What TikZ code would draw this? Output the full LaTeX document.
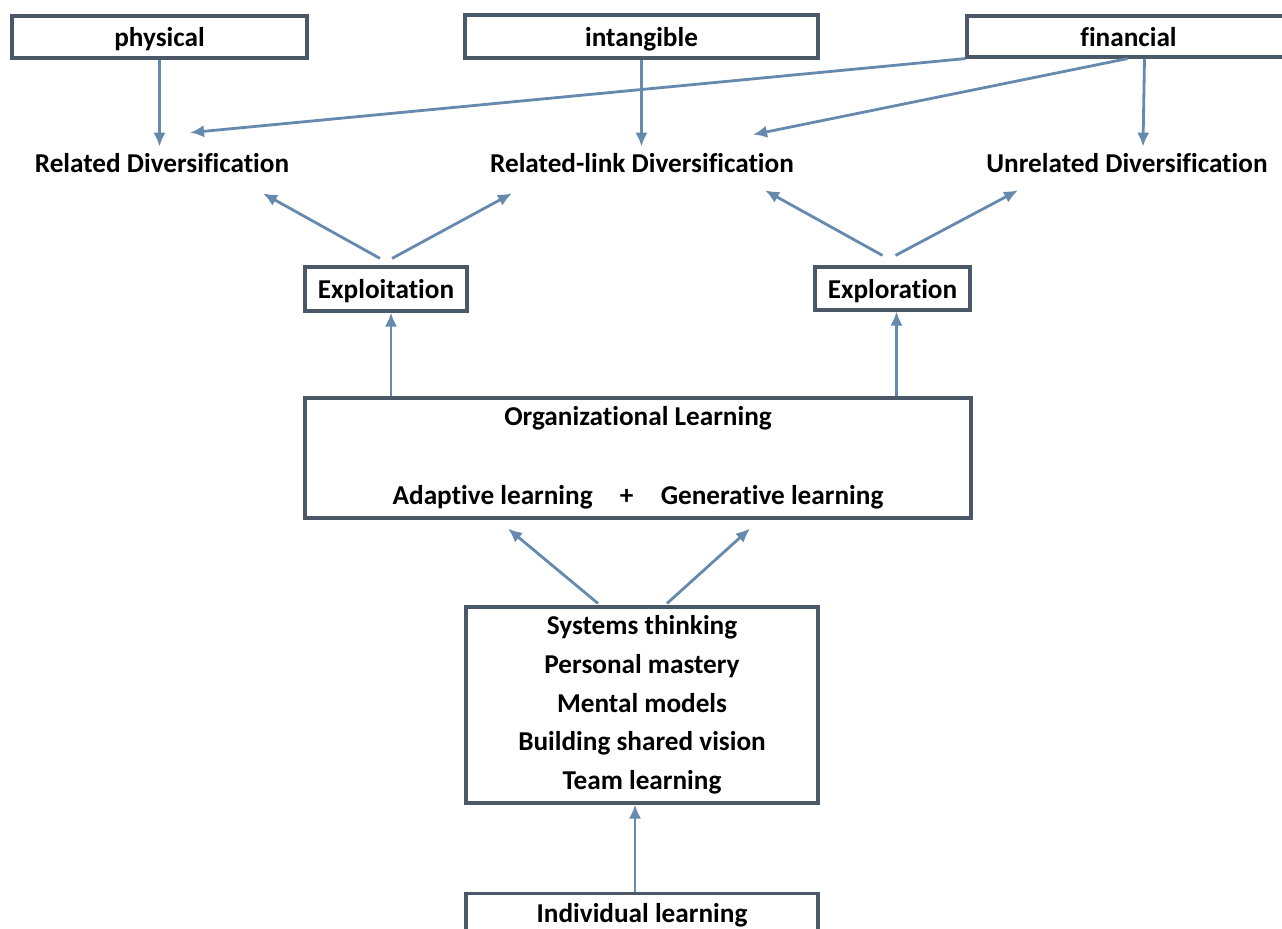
\documentclass[tikz,border=0pt]{standalone}
\usepackage{fontspec}
\setmainfont{Carlito}[Ligatures=CommonOff]
\usepackage{tikz}
\usetikzlibrary{arrows.meta,positioning,calc}
\definecolor{BoxGray}{HTML}{4A5868}
\definecolor{ArrBlue}{HTML}{6689AE}
\newcommand{\dvfont}{\fontsize{15.5}{22}\selectfont\bfseries}
\tikzset{
  dv/box/.style={draw=BoxGray, line width=1.8pt, fill=white, inner sep=0pt, align=center, font=\dvfont},
  dv/onebox/.style={dv/box, text height=13pt, text depth=2pt},
  dv/label/.style={inner sep=0pt, minimum height=0.64cm, font=\dvfont},
  dv/arr/.style={draw=ArrBlue, line width=1.6pt, -{Latex[length=8pt,width=7pt]}}
}

\begin{document}
\begin{tikzpicture}[x=0.02cm, y=-0.02cm]
\useasboundingbox (0,0) rectangle (1282,929);

% resources
\node[dv/onebox, minimum width=5.9cm, minimum height=0.84cm] (phys) at (159.5,37) {physical};
\node[dv/onebox, minimum width=7.06cm, minimum height=0.86cm] (intang) at (641.5,36.5) {intangible};
\node[dv/onebox, minimum width=6.46cm, minimum height=0.82cm] (fin) at (1128.5,36.5) {financial};

% kinds of diversification
\node[dv/label] (relD) at (162,163) {Related Diversification};
\node[dv/label] (relL) at (642,163) {Related-link Diversification};
\node[dv/label] (unrel) at (1127,163) {Unrelated Diversification};

% exploitation / exploration
\node[dv/onebox, minimum width=3.24cm, minimum height=0.88cm] (exploit) at (386,289) {Exploitation};
\node[dv/onebox, minimum width=3.1cm, minimum height=0.86cm] (explor) at (892.5,288.5) {Exploration};

% learning
\node[dv/box, minimum width=13.32cm, minimum height=2.4cm] (org) at (638,458)
  {Organizational Learning\\[0.8cm] Adaptive learning\quad+\quad Generative learning};
\node[dv/box, minimum width=7.04cm, minimum height=3.92cm] (sys) at (642,705)
  {Systems thinking\\Personal mastery\\Mental models\\Building shared vision\\Team learning};
\node[dv/onebox, minimum width=7.04cm, minimum height=0.76cm, anchor=north] (indiv) at (642,892) {Individual learning};

% resources -> diversification
\draw[dv/arr] (phys.south) -- (phys.south |- relD.north);
\draw[dv/arr] (intang.south) -- (intang.south |- relL.north);
\draw[dv/arr] ([xshift=0.32cm]fin.south) -- ([xshift=0.32cm]unrel.north);
\draw[dv/arr] (fin.south west) -- ([shift={(28,-14)}]relD.north);
\draw[dv/arr] ([shift={(-1,0)}]fin.south) -- ([shift={(111,-12)}]relL.north);

% exploitation / exploration -> diversification
\draw[dv/arr] ([shift={(-6,-7)}]exploit.north) -- ([shift={(101,14)}]relD.south);
\draw[dv/arr] ([shift={(6,-7)}]exploit.north) -- ([shift={(-130,14)}]relL.south);
\draw[dv/arr] ([shift={(-10,-10)}]explor.north) -- ([shift={(123,11)}]relL.south);
\draw[dv/arr] ([shift={(3,-10)}]explor.north) -- ([shift={(-109,11)}]unrel.south);

% learning -> modes
\draw[dv/arr] ([shift={(5,0)}]org.north -| exploit.south) -- ([shift={(5,0)}]exploit.south);
\draw[dv/arr] ([shift={(4,0)}]org.north -| explor.south) -- ([shift={(4,0)}]explor.south);
\draw[dv/arr] ([shift={(-44,-2)}]sys.north) -- ([shift={(-130,9)}]org.south);
\draw[dv/arr] ([shift={(25,-2)}]sys.north) -- ([shift={(112,9)}]org.south);
\draw[dv/arr] ([shift={(-7,0)}]indiv.north) -- ([shift={(-7,0)}]sys.south);

\end{tikzpicture}
\end{document}
